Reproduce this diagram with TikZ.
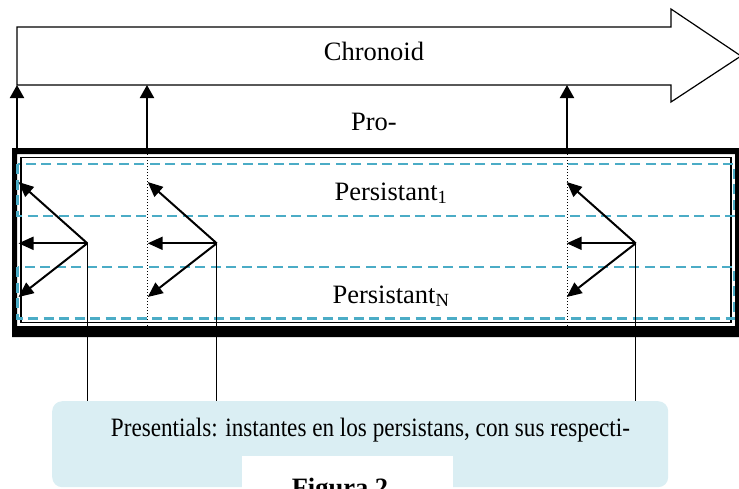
\documentclass[tikz,border=0pt]{standalone}
\usepackage{fontspec}
\setmainfont{Liberation Serif}
\usetikzlibrary{arrows.meta}
\definecolor{dashblue}{HTML}{4BACC6}
\definecolor{boxblue}{HTML}{DAEEF3}
\begin{document}
\begin{tikzpicture}[x=1pt,y=-1pt,
  lbl/.style={font=\fontsize{26.5}{30}\selectfont, inner sep=0pt, anchor=base},
  uparrow/.style={line width=2pt, -{Triangle[width=14pt,length=13pt]}},
  parrow/.style={line width=2pt, -{Triangle[width=13pt,length=15pt]}},
  dashrect/.style={draw=dashblue, line width=2.6pt, dash pattern=on 10pt off 5.5pt},
  dropline/.style={line width=1.5pt},
  dotline/.style={line width=1pt, dash pattern=on 1pt off 2pt}]
\useasboundingbox (0,0) rectangle (739,488);
\clip (0,0) rectangle (739,488);

% Chronoid big arrow
\draw[line width=1.2pt, fill=white] (17,27) -- (671,27) -- (671,9) -- (741,56)
  -- (671,102) -- (671,85) -- (17,85) -- cycle;
\node[lbl] (chronoid) at (374,60) {Chronoid};
\node[lbl] (pro) at (374,130) {Pro-};

% frame
\fill[even odd rule] (12,148) rectangle (741,337) (17,154) rectangle (735,326);
\draw[line width=1.2pt] (21,157.5) rectangle (731,322.5);

% dotted verticals
\coordinate (d2t) at (147,154);
\coordinate (d2b) at (147,328);
\coordinate (d3t) at (567,154);
\coordinate (d3b) at (567,328);
\draw[dotline] (d2t) -- (d2b);
\draw[dotline] (d3t) -- (d3b);

% dashed persistant rects
\draw[dashrect] (17.5,164) rectangle (734,216);
\draw[dashrect] (17.5,267) rectangle (734,318.5);
\node[lbl] (p1) at (391,200) {Persistant\textsubscript{1}};
\node[lbl] (pN) at (391,303) {Persistant\textsubscript{N}};

% up arrows
\coordinate (f1) at (17,148);  \coordinate (c1) at (17,85);
\coordinate (f2) at (147,148); \coordinate (c2) at (147,85);
\coordinate (f3) at (567,148); \coordinate (c3) at (567,85);
\draw[uparrow] (f1) -- (c1);
\draw[uparrow] (f2) -- (c2);
\draw[uparrow] (f3) -- (c3);

% presentials box
\node[fill=boxblue, rounded corners=10pt, inner sep=0pt, minimum width=616pt,
  minimum height=86pt, anchor=north west] (box) at (52,401) {};
\node[lbl] (ptext) at (370.5,436) {\scalebox{0.874}[1]{Presentials: instantes en los persistans, con sus respecti-}};
\fill[white] (242,456) rectangle (453,500);
\node[lbl, font=\fontsize{26.5}{30}\selectfont\bfseries] (fig) at (340,496.5) {Figura 2};

% presential groups
\foreach \i/\ox/\tx in {1/87.3/18.5, 2/216.7/147.7, 3/635.7/566.7}{
  \coordinate (o\i) at (\ox,243.3);
  \coordinate (tu\i) at (\tx,182);
  \coordinate (tm\i) at (\tx,243.3);
  \coordinate (tl\i) at (\tx,297);
  \draw[parrow] (o\i) -- (tu\i);
  \draw[parrow] (o\i) -- (tm\i);
  \draw[parrow] (o\i) -- (tl\i);
  \draw[dropline] (o\i) -- (o\i |- box.north);
}
\end{tikzpicture}
\end{document}
